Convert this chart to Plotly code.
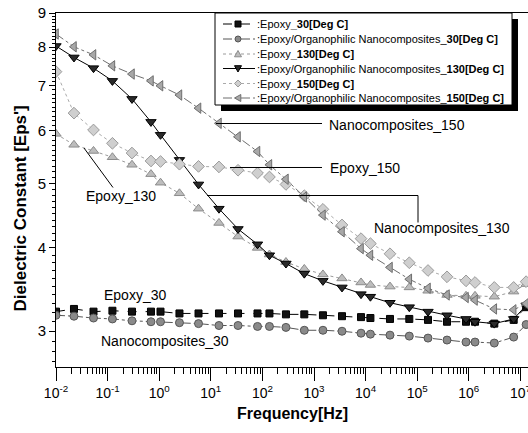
import numpy as np
import plotly.graph_objects as go

# ---------------- data ----------------
freq_hz = [0.01, 0.0223, 0.0533, 0.124, 0.297, 0.693, 1.06, 2.47, 5.78, 14.4,
           33.7, 80.4, 137, 286, 649, 1490, 3490, 8150, 12400, 29700,
           70300, 162000, 378000, 883000, 1320000, 3120000, 7410000, 12900000]

epoxy_30 = [3.21, 3.24, 3.21, 3.22, 3.21, 3.21, 3.21, 3.19, 3.19, 3.19,
            3.19, 3.19, 3.19, 3.18, 3.18, 3.17, 3.16, 3.15, 3.14, 3.13,
            3.13, 3.12, 3.10, 3.10, 3.10, 3.08, 3.12, 3.26]
nano_30 = [3.17, 3.16, 3.14, 3.13, 3.11, 3.10, 3.10, 3.09, 3.08, 3.06,
           3.06, 3.05, 3.05, 3.04, 3.01, 3.01, 3.00, 2.98, 2.97, 2.96,
           2.95, 2.93, 2.91, 2.89, 2.89, 2.88, 2.94, 3.07]
epoxy_130 = [5.93, 5.71, 5.59, 5.47, 5.33, 5.16, 5.01, 4.83, 4.58, 4.36,
             4.16, 4.00, 3.91, 3.81, 3.72, 3.65, 3.60, 3.55, 3.52, 3.50,
             3.49, 3.45, 3.40, 3.39, 3.39, 3.38, 3.44, 3.53]
nano_130 = [8.03, 7.72, 7.44, 7.12, 6.69, 6.18, 5.91, 5.42, 4.98, 4.58,
            4.27, 4.05, 3.90, 3.79, 3.66, 3.57, 3.49, 3.41, 3.38, 3.31,
            3.26, 3.21, 3.17, 3.13, 3.10, 3.08, 3.13, 3.28]
epoxy_150 = [7.35, 6.37, 6.01, 5.74, 5.55, 5.40, 5.39, 5.34, 5.30, 5.29,
             5.23, 5.18, 5.11, 4.98, 4.79, 4.57, 4.33, 4.13, 4.06, 3.92,
             3.80, 3.70, 3.62, 3.57, 3.55, 3.49, 3.49, 3.56]
nano_150 = [8.37, 8.01, 7.79, 7.50, 7.29, 7.12, 7.00, 6.78, 6.48, 6.15,
            5.87, 5.58, 5.33, 5.07, 4.77, 4.48, 4.23, 3.99, 3.90, 3.74,
            3.59, 3.48, 3.40, 3.37, 3.34, 3.24, 3.23, 3.30]

legend_names = [
    ":Epoxy<b>_30[Deg C]</b>",
    ":Epoxy/Organophilic Nanocomposites_<b>30[Deg C]</b>",
    ":Epoxy<b>_130[Deg C]</b>",
    ":Epoxy/Organophilic Nanocomposites_<b>130[Deg C]</b>",
    ":Epoxy<b>_150[Deg C]</b>",
    ":Epoxy/Organophilic Nanocomposites_<b>150[Deg C]</b>",
]
curve_labels = ["Nanocomposites_150", "Epoxy_150", "Nanocomposites_130",
                "Epoxy_130", "Epoxy_30", "Nanocomposites_30"]
y_tick_values = [3, 4, 5, 6, 7, 8, 9]
x_tick_exponents = [-2, -1, 0, 1, 2, 3, 4, 5, 6, 7]
x_title = "Frequency[Hz]"
y_title = "Dielectric Constant [Eps']"

series = [epoxy_30, nano_30, epoxy_130, nano_130, epoxy_150, nano_150]

# ---------------- styles ----------------
styles = [
    dict(symbol="square", size=7, fill="#111111", edge="#000000", lc="#000000", dash="dash", ms="square"),
    dict(symbol="circle", size=8, fill="#8a8a8a", edge="#555555", lc="#555555", dash="dashdot", ms="circle"),
    dict(symbol="triangle-up", size=9, fill="#bdbdbd", edge="#8c8c8c", lc="#9a9a9a", dash="dot", ms="up"),
    dict(symbol="triangle-down", size=9, fill="#2a2a2a", edge="#000000", lc="#000000", dash="solid", ms="down"),
    dict(symbol="diamond", size=9, fill="#cfcfcf", edge="#9a9a9a", lc="#aaaaaa", dash="dot", ms="diamond"),
    dict(symbol="triangle-left", size=9, fill="#a8a8a8", edge="#6e6e6e", lc="#6e6e6e", dash="dashdot", ms="left"),
]

FONT = "Arial, Liberation Sans, sans-serif"
W, H = 528, 433
L, T, B, R = 56, 13, 66, 0
PW, PH = W - L - R, H - T - B


def px(x):
    return (x - L) / PW


def py(y):
    return (H - B - y) / PH


fig = go.Figure()
for vals, st, name in zip(series, styles, legend_names):
    fig.add_trace(go.Scatter(
        x=freq_hz, y=vals, mode="lines+markers", name=name, showlegend=False,
        line=dict(color=st["lc"], width=1, dash=st["dash"]),
        marker=dict(symbol=st["symbol"], size=st["size"], color=st["fill"],
                    line=dict(color=st["edge"], width=1)),
    ))

shapes = []
annotations = []

# ---- manual legend box with shadow ----
box = (215, 13, 512, 105)
shapes.append(dict(type="rect", xref="paper", yref="paper", layer="above",
                   x0=px(box[0] + 6), x1=px(box[2] + 6), y0=py(box[3] + 6), y1=py(box[1] + 6),
                   fillcolor="black", line=dict(width=0)))
shapes.append(dict(type="rect", xref="paper", yref="paper", layer="above",
                   x0=px(box[0]), x1=px(box[2]), y0=py(box[3]), y1=py(box[1]),
                   fillcolor="white", line=dict(color="black", width=1)))


def marker_shape(kind, cx, cy, s, fill, edge):
    h = s / 2.0
    if kind == "circle":
        return dict(type="circle", xref="paper", yref="paper", layer="above",
                    x0=px(cx - h), x1=px(cx + h), y0=py(cy + h), y1=py(cy - h),
                    fillcolor=fill, line=dict(color=edge, width=1))
    if kind == "square":
        pts = [(cx - h, cy - h), (cx + h, cy - h), (cx + h, cy + h), (cx - h, cy + h)]
    elif kind == "up":
        pts = [(cx, cy - h), (cx + h, cy + h * 0.8), (cx - h, cy + h * 0.8)]
    elif kind == "down":
        pts = [(cx, cy + h), (cx + h, cy - h * 0.8), (cx - h, cy - h * 0.8)]
    elif kind == "left":
        pts = [(cx - h, cy), (cx + h * 0.8, cy - h), (cx + h * 0.8, cy + h)]
    else:  # diamond
        pts = [(cx, cy - h), (cx + h, cy), (cx, cy + h), (cx - h, cy)]
    path = "M " + " L ".join(f"{px(a):.5f},{py(b):.5f}" for a, b in pts) + " Z"
    return dict(type="path", xref="paper", yref="paper", layer="above", path=path,
                fillcolor=fill, line=dict(color=edge, width=1))


row_y = [24, 39, 54, 68.5, 83.5, 98]
for ry, st, name in zip(row_y, styles, legend_names):
    shapes.append(dict(type="line", xref="paper", yref="paper", layer="above",
                       x0=px(223), x1=px(255), y0=py(ry), y1=py(ry),
                       line=dict(color=st["lc"], width=1, dash=st["dash"])))
    shapes.append(marker_shape(st["ms"], 238, ry, 6 if st["ms"] in ("square", "circle") else 7,
                               st["fill"], st["edge"]))
    annotations.append(dict(xref="paper", yref="paper", x=px(255), y=py(ry), text=name,
                            showarrow=False, xanchor="left", yanchor="middle",
                            font=dict(family=FONT, size=11, color="black")))

# ---- curve labels with pointer lines ----
label_pos = [(327, 125), (328, 168), (372, 228), (84, 196), (102, 295), (99, 341)]
for txt, (lx, ly) in zip(curve_labels, label_pos):
    annotations.append(dict(xref="paper", yref="paper", x=px(lx), y=py(ly), text=txt,
                            showarrow=False, xanchor="left", yanchor="middle",
                            font=dict(family=FONT, size=14, color="black")))

pointers = [
    [(216, 123.5), (322, 123.5)],
    [(230, 167.5), (322, 167.5)],
    [(207, 195.5), (418, 195.5), (418, 222.5)],
    [(84, 148), (113, 187.5)],
]
for pts in pointers:
    path = "M " + " L ".join(f"{px(a):.5f},{py(b):.5f}" for a, b in pts)
    shapes.append(dict(type="path", xref="paper", yref="paper", layer="above", path=path,
                       line=dict(color="black", width=1)))

# ---- axis titles ----
annotations.append(dict(xref="paper", yref="paper", x=px(20), y=py(208.5), text=f"<b>{y_title}</b>",
                        textangle=-90, showarrow=False, xanchor="center", yanchor="middle",
                        font=dict(family=FONT, size=17, color="black")))
annotations.append(dict(xref="paper", yref="paper", x=px(292), y=py(413), text=f"<b>{x_title}</b>",
                        showarrow=False, xanchor="center", yanchor="middle",
                        font=dict(family=FONT, size=16, color="black")))

x_major = [10.0 ** e for e in x_tick_exponents]
x_labels = [f"10<sup>{e}</sup>" for e in x_tick_exponents]
x_minor = [m * 10.0 ** k for k in range(-2, 7) for m in range(2, 10)]
y_minor = [round(v, 1) for v in np.arange(2.7, 9.0, 0.1) if abs(v - round(v)) > 1e-6]

x_max_log = -2 + PW / 51.6
y_min_log = np.log10(9) - PH / 667.0

fig.update_layout(
    template="none",
    width=W, height=H, margin=dict(l=L, r=R, t=T, b=B, pad=0),
    paper_bgcolor="white", plot_bgcolor="white", showlegend=False,
    font=dict(family=FONT, color="black"),
    shapes=shapes, annotations=annotations,
    xaxis=dict(type="log", range=[-2, x_max_log], tickmode="array",
               tickvals=x_major, ticktext=x_labels, automargin=False,
               ticklabeloverflow="allow",
               showline=True, linecolor="black", linewidth=1, mirror=True,
               ticks="outside", ticklen=13, tickwidth=1, tickcolor="black",
               tickfont=dict(family=FONT, size=14, color="black"),
               showgrid=False, zeroline=False,
               minor=dict(tickmode="array", tickvals=x_minor, ticks="outside", ticklen=6,
                          tickcolor="black", showgrid=False)),
    yaxis=dict(type="log", range=[y_min_log, np.log10(9)], tickmode="array",
               tickvals=y_tick_values, automargin=False,
               ticktext=[str(v) for v in y_tick_values],
               showline=True, linecolor="black", linewidth=1, mirror=False,
               ticks="outside", ticklen=6, tickwidth=1, tickcolor="black",
               tickfont=dict(family=FONT, size=15, color="black"),
               showgrid=False, zeroline=False,
               minor=dict(tickmode="array", tickvals=y_minor, ticks="outside", ticklen=3,
                          tickcolor="black", showgrid=False)),
)

fig.write_html("out.html", config={"displayModeBar": False},
               post_script="document.body.style.margin='0px';document.body.style.padding='0px';")
